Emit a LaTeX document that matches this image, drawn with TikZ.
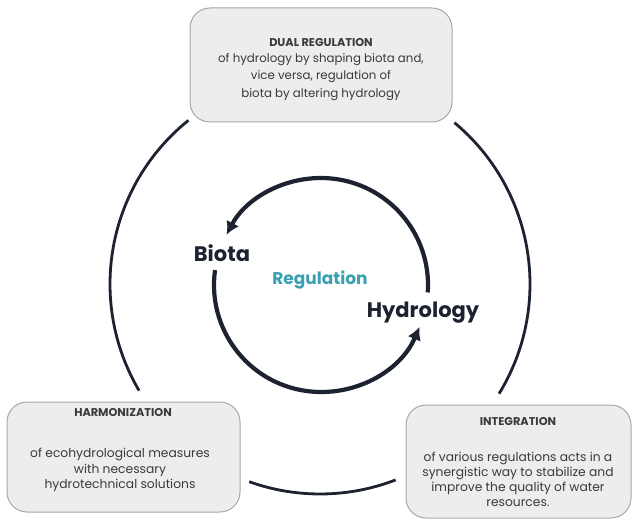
\documentclass[tikz,border=0pt]{standalone}
\usepackage{fontspec}
\setmainfont{Poppins}
\usetikzlibrary{arrows.meta}
\definecolor{boxfill}{HTML}{EDEDED}
\definecolor{boxline}{HTML}{A8A8A8}
\definecolor{txt}{HTML}{3A3A3A}
\definecolor{dark}{HTML}{1C2230}
\definecolor{teal}{HTML}{3A9FB0}
\tikzset{
  infobox/.style={draw=boxline, fill=boxfill, line width=1pt, rounded corners=20pt, inner sep=0pt},
  boxtitle/.style={font=\fontsize{11.3}{13}\selectfont\bfseries, text=txt, inner sep=0pt},
  boxbody/.style={font=\fontsize{12.3}{15.5}\selectfont, text=txt, align=center, inner sep=0pt},
  outerarc/.style={draw=dark, line width=2.8pt},
  innerarc/.style={draw=dark, line width=4.2pt, -{Latex[length=13pt,width=14pt]}},
  bigword/.style={font=\fontsize{21}{24}\selectfont\bfseries, text=dark, inner sep=0pt},
}
\begin{document}
\begin{tikzpicture}[x=1pt,y=1pt]
\useasboundingbox (0,0) rectangle (632,520);
% boxes
\node[infobox, minimum width=262pt, minimum height=114pt] (top) at (321,455) {};
\node[infobox, minimum width=233pt, minimum height=110pt] (left) at (123.5,63) {};
\node[infobox, minimum width=225pt, minimum height=113pt] (right) at (518.5,58.5) {};
% box texts
\node[boxtitle] (toptitle) at (321,477) {DUAL REGULATION};
\node[boxbody, font=\fontsize{11.8}{17.5}\selectfont] (topbody) at (321,443) {of hydrology by shaping biota and,\\vice versa, regulation of\\biota by altering hydrology};
\node[boxtitle] (lefttitle) at (123,107) {HARMONIZATION};
\node[boxbody] (leftbody) at (120,50) {of ecohydrological measures\\with necessary\\hydrotechnical solutions};
\node[boxtitle] (righttitle) at (518,98) {INTEGRATION};
\node[boxbody, font=\fontsize{12.3}{15}\selectfont] (rightbody) at (518,40.5) {of various regulations acts in a\\synergistic way to stabilize and\\improve the quality of water\\resources.};
% outer arcs
\coordinate (oc) at (320,236);
\draw[outerarc] ([shift={(128.8:210)}]oc) arc[start angle=128.8, end angle=210.5, radius=210];
\draw[outerarc] ([shift={(50.2:210)}]oc) arc[start angle=50.2, end angle=-31.5, radius=210];
\draw[outerarc] ([shift={(250.3:210)}]oc) arc[start angle=250.3, end angle=291.1, radius=210];
% inner arcs
\coordinate (ic) at (321,235);
\draw[innerarc] ([shift={(-4:107)}]ic) arc[start angle=-4, end angle=152, radius=107];
\draw[innerarc] ([shift={(172:107)}]ic) arc[start angle=172, end angle=337, radius=107];
% words
\node[bigword] (biota) at (222,267) {Biota};
\node[font=\fontsize{17}{19}\selectfont\bfseries, text=teal, inner sep=0pt] (reg) at (320,240) {Regulation};
\node[bigword] (hydro) at (423,207) {Hydrology};
\end{tikzpicture}
\end{document}
